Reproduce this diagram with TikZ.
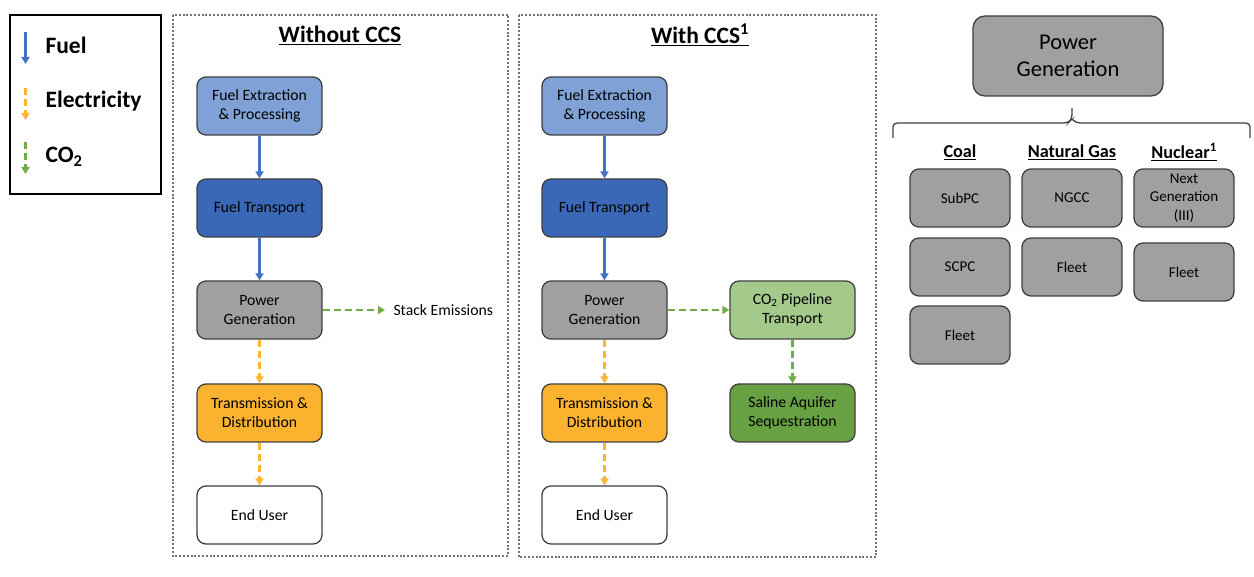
\documentclass[tikz,border=0pt]{standalone}
\usepackage{fontspec}
\setmainfont{Carlito}
\usetikzlibrary{arrows.meta,positioning}
\definecolor{fuelBlue}{HTML}{4472C4}
\definecolor{elecOrange}{HTML}{FFB533}
\definecolor{coGreen}{HTML}{70AD47}
\definecolor{extrBlue}{HTML}{7FA1D6}
\definecolor{transBlue}{HTML}{3A68B6}
\definecolor{genGray}{HTML}{A0A0A0}
\definecolor{tdOrange}{HTML}{FBB22E}
\definecolor{pipeGreen}{HTML}{A3C98B}
\definecolor{aquiGreen}{HTML}{68A044}
\newcommand{\oszlopEgy}{259.5}
\newcommand{\oszlopKet}{604.5}
\newcommand{\oszlopHarom}{792.5}
\newcommand{\betu}[1]{\fontsize{#1}{1.22\dimexpr#1pt\relax}\selectfont}
\tikzset{
  folyamat/.style={draw=black!75,line width=1.3pt,rounded corners=9pt,minimum width=125pt,
    minimum height=58pt,align=center,font=\betu{15.7}},
  tipus/.style={draw=black!75,line width=1.3pt,rounded corners=9pt,fill=genGray,minimum width=100pt,
    minimum height=58pt,align=center,font=\betu{15}},
  fuelnyil/.style={fuelBlue,line width=2.6pt,-{Triangle[width=8pt,length=7pt]}},
  elecnyil/.style={elecOrange,line width=2.6pt,dash pattern=on 7pt off 4pt,-{Triangle[width=8pt,length=7pt]}},
  conyil/.style={coGreen,line width=2.6pt,dash pattern=on 7pt off 4pt,-{Triangle[width=8pt,length=7pt]}},
  panel/.style={draw=black!55,line width=2pt,dash pattern=on 2pt off 1.8pt},
  cim/.style={font=\bfseries\betu{23.5}},
  fejlec/.style={font=\bfseries\betu{18.2}}
}
\begin{document}
\begin{tikzpicture}[x=1pt,y=-1pt]
	\useasboundingbox (0,0) rectangle (1254,577);
	% jelmagyarazat
	\draw[line width=2.6pt] (10,15) rectangle (161,194);
	\coordinate (lf1) at (25.5,32); \coordinate (lf2) at (25.5,64);
	\coordinate (le1) at (25.5,88); \coordinate (le2) at (25.5,120);
	\coordinate (lc1) at (25.5,142); \coordinate (lc2) at (25.5,174);
	\draw[fuelnyil] (lf1)--(lf2);
	\draw[elecnyil] (le1)--(le2);
	\draw[conyil] (lc1)--(lc2);
	\node[anchor=west,font=\bfseries\betu{23.5}] (lfuel) at (42,45) {Fuel};
	\node[anchor=west,font=\bfseries\betu{23.5}] (lelec) at (42,101) {Electricity};
	\node[anchor=west,font=\bfseries\betu{23.5}] (lco) at (42,157) {CO\textsubscript{2}};
	% CCS nelkul
	\draw[panel] (173,15) rectangle (508,556);
	\node[cim] (cim1) at (340,35) {\underline{Without CCS}};
	\node[folyamat,fill=extrBlue] (fe1) at (\oszlopEgy,106) {Fuel Extraction\\\& Processing};
	\node[folyamat,fill=transBlue] (ft1) at (\oszlopEgy,208) {Fuel Transport};
	\node[folyamat,fill=genGray] (pg1) at (\oszlopEgy,310) {Power\\Generation};
	\node[folyamat,fill=tdOrange] (td1) at (\oszlopEgy,413) {Transmission \&\\Distribution};
	\node[folyamat,fill=white] (eu1) at (\oszlopEgy,515) {End User};
	\node[anchor=west,font=\betu{15.7}] (stack1) at (390,310) {Stack Emissions};
	\draw[fuelnyil] (fe1)--(ft1);
	\draw[fuelnyil] (ft1)--(pg1);
	\draw[elecnyil] (pg1)--(td1);
	\draw[elecnyil] (td1)--(eu1);
	\draw[conyil,shorten >=5pt] (pg1)--(stack1);
	% CCS-sel
	\draw[panel] (519,15) rectangle (876,557);
	\node[cim] (cim2) at (700,35) {\underline{With CCS\textsuperscript{1}}};
	\node[folyamat,fill=extrBlue] (fe2) at (\oszlopKet,106) {Fuel Extraction\\\& Processing};
	\node[folyamat,fill=transBlue] (ft2) at (\oszlopKet,208) {Fuel Transport};
	\node[folyamat,fill=genGray] (pg2) at (\oszlopKet,310) {Power\\Generation};
	\node[folyamat,fill=tdOrange] (td2) at (\oszlopKet,413) {Transmission \&\\Distribution};
	\node[folyamat,fill=white] (eu2) at (\oszlopKet,515) {End User};
	\node[folyamat,fill=pipeGreen] (pipe2) at (\oszlopHarom,310) {CO\textsubscript{2} Pipeline\\Transport};
	\node[folyamat,fill=aquiGreen] (aqui2) at (\oszlopHarom,413) {Saline Aquifer\\Sequestration};
	\draw[fuelnyil] (fe2)--(ft2);
	\draw[fuelnyil] (ft2)--(pg2);
	\draw[elecnyil] (pg2)--(td2);
	\draw[elecnyil] (td2)--(eu2);
	\draw[conyil] (pg2)--(pipe2);
	\draw[conyil] (pipe2)--(aqui2);
	% eromu tipusok
	\node[draw=black!75,line width=1.3pt,rounded corners=12pt,fill=genGray,minimum width=190pt,
	  minimum height=80pt,align=center,font=\betu{22.5}] (pgfo) at (1068,56) {Power\\Generation};
	\draw[black!75,line width=1.3pt,rounded corners=4pt] (893,138)--(893,123)--(1068,123)--(1072,119)--(1072,108)
	  (1072,119)--(1076,123)--(1250,123)--(1250,138);
	\node[fejlec] (coal) at (960,152) {\underline{Coal}};
	\node[fejlec] (gas) at (1072,152) {\underline{Natural Gas}};
	\node[fejlec] (nuc) at (1184,152) {\underline{Nuclear\textsuperscript{1}}};
	\node[tipus] (subpc) at (960,198) {SubPC};
	\node[tipus] (scpc) at (960,267) {SCPC};
	\node[tipus] (cfleet) at (960,335) {Fleet};
	\node[tipus] (ngcc) at (1072,198) {NGCC};
	\node[tipus] (gfleet) at (1072,267) {Fleet};
	\node[tipus] (nextgen) at (1184,198) {Next\\Generation\\(III)};
	\node[tipus] (nfleet) at (1184,272) {Fleet};
\end{tikzpicture}
\end{document}
